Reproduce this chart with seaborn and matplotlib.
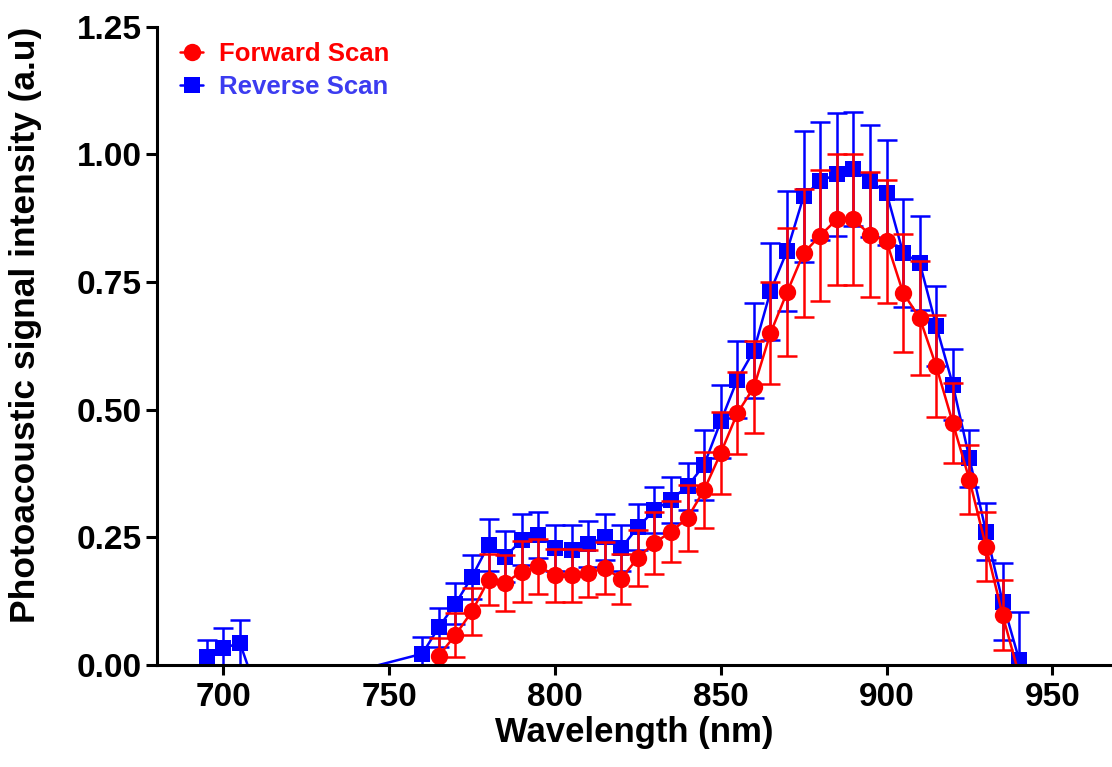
import matplotlib
matplotlib.use('Agg')
import matplotlib.pyplot as plt
import pandas as pd
import seaborn as sns

# forward scan (red circles)
fwd_nm = [765, 770, 775, 780, 785, 790, 795, 800, 805, 810, 815, 820, 825, 830,
          835, 840, 845, 850, 855, 860, 865, 870, 875, 880, 885, 890, 895, 900,
          905, 910, 915, 920, 925, 930, 935, 940]
fwd_val = [0.018, 0.059, 0.105, 0.167, 0.161, 0.183, 0.193, 0.176, 0.176, 0.180,
           0.190, 0.169, 0.210, 0.239, 0.261, 0.288, 0.343, 0.415, 0.493, 0.544,
           0.650, 0.730, 0.807, 0.841, 0.873, 0.873, 0.843, 0.830, 0.729, 0.680,
           0.585, 0.474, 0.363, 0.232, 0.098, -0.020]
fwd_err = [0.035, 0.043, 0.046, 0.050, 0.055, 0.060, 0.053, 0.052, 0.052, 0.046,
           0.050, 0.049, 0.055, 0.060, 0.060, 0.065, 0.074, 0.080, 0.080, 0.090,
           0.100, 0.125, 0.126, 0.128, 0.128, 0.128, 0.123, 0.120, 0.115, 0.112,
           0.100, 0.079, 0.068, 0.067, 0.069, 0.010]

# reverse scan (blue squares)
rev_nm = [695, 700, 705, 710, 735, 760, 765, 770, 775, 780, 785, 790, 795, 800,
          805, 810, 815, 820, 825, 830, 835, 840, 845, 850, 855, 860, 865, 870,
          875, 880, 885, 890, 895, 900, 905, 910, 915, 920, 925, 930, 935, 940]
rev_val = [0.016, 0.033, 0.043, -0.050, -0.020, 0.022, 0.074, 0.120, 0.173, 0.235,
           0.212, 0.245, 0.255, 0.229, 0.225, 0.237, 0.250, 0.229, 0.270, 0.303,
           0.324, 0.350, 0.392, 0.477, 0.559, 0.616, 0.732, 0.811, 0.918, 0.948,
           0.961, 0.971, 0.948, 0.925, 0.807, 0.788, 0.664, 0.549, 0.405, 0.261,
           0.124, 0.010]
rev_err = [0.033, 0.040, 0.045, 0.020, 0.010, 0.032, 0.038, 0.040, 0.043, 0.050,
           0.050, 0.050, 0.045, 0.045, 0.050, 0.045, 0.045, 0.045, 0.045, 0.045,
           0.045, 0.046, 0.068, 0.072, 0.075, 0.093, 0.095, 0.117, 0.128, 0.115,
           0.120, 0.112, 0.109, 0.103, 0.105, 0.092, 0.078, 0.069, 0.056, 0.056,
           0.076, 0.094]

red = '#ff0000'
blue = '#0000ff'

sns.set_style('ticks')
plt.rcParams['font.family'] = ['Liberation Sans', 'DejaVu Sans']
plt.rcParams['font.weight'] = 'bold'
plt.rcParams['text.color'] = 'black'
plt.rcParams['axes.labelcolor'] = 'black'
plt.rcParams['xtick.color'] = 'black'
plt.rcParams['ytick.color'] = 'black'

fwd = pd.DataFrame({'nm': fwd_nm, 'val': fwd_val, 'err': fwd_err})
rev = pd.DataFrame({'nm': rev_nm, 'val': rev_val, 'err': rev_err})

fig = plt.figure(figsize=(11.12, 7.67), dpi=100)
ax = fig.add_axes([0.1412, 0.133, 0.8588, 0.832])

ax.errorbar(rev['nm'], rev['val'], yerr=rev['err'], fmt='none', ecolor=blue,
            elinewidth=1.8, capsize=7, capthick=1.8)
sns.lineplot(x='nm', y='val', data=rev, ax=ax, color=blue, marker='s',
             markersize=11, markeredgecolor=blue, markeredgewidth=0,
             linewidth=1.8, label='Reverse Scan')
ax.errorbar(fwd['nm'], fwd['val'], yerr=fwd['err'], fmt='none', ecolor=red,
            elinewidth=1.8, capsize=7, capthick=1.8)
sns.lineplot(x='nm', y='val', data=fwd, ax=ax, color=red, marker='o',
             markersize=12.5, markeredgecolor=red, markeredgewidth=0,
             linewidth=1.8, label='Forward Scan')

ax.set_xlim(680, 968)
ax.set_ylim(0, 1.25)
ax.set_xticks([700, 750, 800, 850, 900, 950])
ax.set_yticks([0, 0.25, 0.5, 0.75, 1.0, 1.25])
ax.set_yticklabels(['0.00', '0.25', '0.50', '0.75', '1.00', '1.25'])
ax.tick_params(axis='x', labelsize=24, width=2.2, length=7.5, direction='out',
               pad=5)
ax.tick_params(axis='y', labelsize=24, width=2.2, length=8, direction='out',
               pad=3)
for lab in ax.get_xticklabels() + ax.get_yticklabels():
    lab.set_fontweight('bold')
for side in ['top', 'right']:
    ax.spines[side].set_visible(False)
for side in ['left', 'bottom']:
    ax.spines[side].set_linewidth(2.2)
    ax.spines[side].set_color('black')

ax.set_xlabel('Wavelength (nm)', fontsize=25, fontweight='bold', labelpad=2)
ax.set_ylabel('Photoacoustic signal intensity (a.u)', fontsize=25.5,
              fontweight='bold')
ax.yaxis.set_label_coords(-0.1204, 0.533)

handles, labels = ax.get_legend_handles_labels()
order = [labels.index('Forward Scan'), labels.index('Reverse Scan')]
leg = ax.legend([handles[i] for i in order], [labels[i] for i in order],
                loc='upper left', bbox_to_anchor=(0.0, 1.012), frameon=False,
                handlelength=0.9, handletextpad=0.6, labelspacing=0.33,
                prop={'size': 18.5, 'weight': 'bold'})
for txt, c in zip(leg.get_texts(), [red, '#3c3cf0']):
    txt.set_color(c)

plt.savefig('out.png', dpi=100)
